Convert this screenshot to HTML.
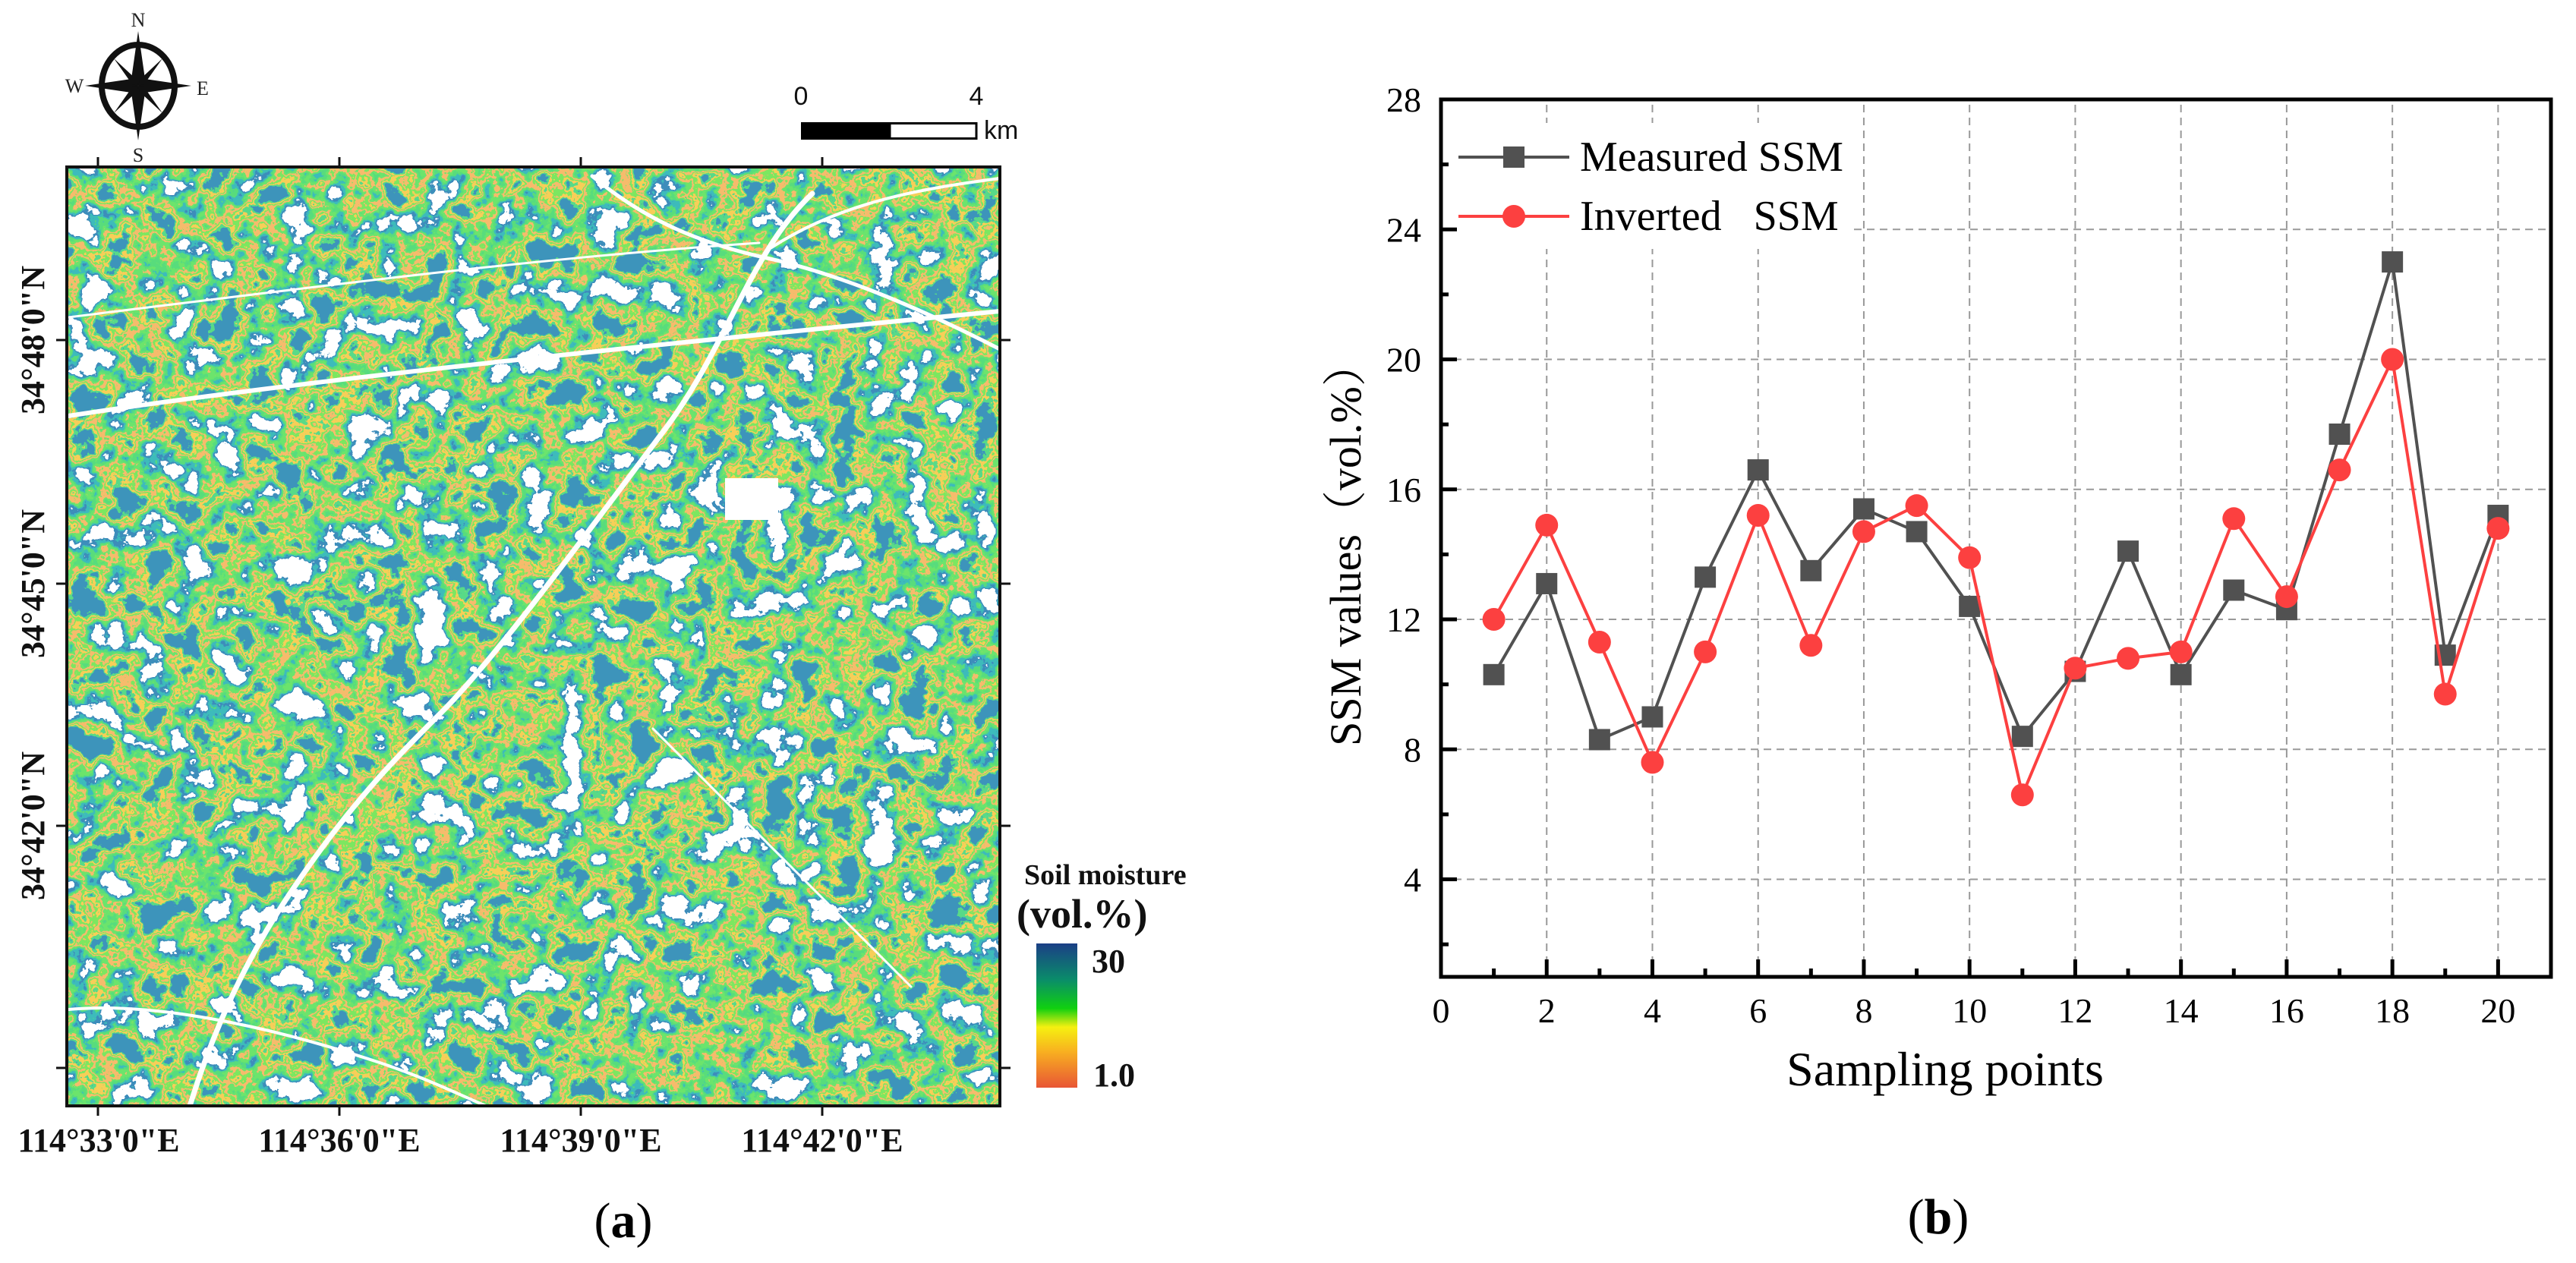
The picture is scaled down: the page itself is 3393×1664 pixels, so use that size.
<!DOCTYPE html>
<html><head><meta charset="utf-8">
<style>
html,body{margin:0;padding:0;background:#fff;}
svg{display:block;}
.serif{font-family:"Liberation Serif","Noto Serif CJK SC",serif;}
.sans{font-family:"Liberation Sans",sans-serif;}
</style></head>
<body>
<svg id="root" width="3393" height="1664" viewBox="0 0 3393 1664" xmlns="http://www.w3.org/2000/svg">
<defs>
  <filter id="soil" x="0" y="0" width="100%" height="100%" filterUnits="objectBoundingBox">
    <feTurbulence type="fractalNoise" baseFrequency="0.022" numOctaves="5" seed="11" result="n"/>
    <feColorMatrix type="matrix" values="1 0 0 0 0  1 0 0 0 0  1 0 0 0 0  0 0 0 0 1"/>
    <feComponentTransfer>
      <feFuncR type="linear" slope="2.4" intercept="-0.7"/>
      <feFuncG type="linear" slope="2.4" intercept="-0.7"/>
      <feFuncB type="linear" slope="2.4" intercept="-0.7"/>
    </feComponentTransfer>
    <feComponentTransfer>
      <feFuncR type="discrete" tableValues="1 0.05 0.05 0.1 0.15 0.92 0.2 0.93 0.1 0.05"/>
      <feFuncG type="discrete" tableValues="1 0.27 0.5 0.72 0.78 0.5 0.8 0.62 0.7 0.3"/>
      <feFuncB type="discrete" tableValues="1 0.5 0.5 0.2 0.15 0.15 0.12 0.1 0.25 0.5"/>
    </feComponentTransfer>
  </filter>
  <linearGradient id="cbar" x1="0" y1="0" x2="0" y2="1">
    <stop offset="0" stop-color="#1b3f86"/>
    <stop offset="0.25" stop-color="#0a8c6a"/>
    <stop offset="0.45" stop-color="#10d010"/>
    <stop offset="0.58" stop-color="#f5f010"/>
    <stop offset="0.75" stop-color="#f8b020"/>
    <stop offset="1" stop-color="#e85535"/>
  </linearGradient>
</defs>

<g>
  <rect x="88" y="220" width="1229" height="1237" fill="#6fb040" filter="url(#soil)"/>
  <g fill="none" stroke="#fff" stroke-linecap="round">
    <path d="M250,1457 C265,1410 300,1300 380,1180 C460,1060 520,1000 580,940 C650,870 760,720 880,560 C960,450 990,330 1070,255" stroke-width="7"/>
    <path d="M90,548 C400,500 900,450 1317,410" stroke-width="6"/>
    <path d="M90,418 C400,380 700,340 1000,320" stroke-width="3"/>
    <path d="M780,232 C850,290 920,320 1010,340 C1100,360 1200,400 1317,460" stroke-width="5"/>
    <path d="M1010,330 C1100,270 1200,250 1317,235" stroke-width="4"/>
    <path d="M860,960 C950,1050 1100,1200 1200,1300" stroke-width="3"/>
    <path d="M90,1330 C200,1320 350,1350 500,1400 C560,1420 600,1440 640,1457" stroke-width="4"/>
  </g>
  <rect x="955" y="630" width="70" height="55" fill="#fff"/>
  <rect x="88" y="220" width="1229" height="1237" fill="none" stroke="#111" stroke-width="4"/>
  <g stroke="#111" stroke-width="3">
    <line x1="129" y1="1457" x2="129" y2="1470"/><line x1="447" y1="1457" x2="447" y2="1470"/>
    <line x1="765" y1="1457" x2="765" y2="1470"/><line x1="1083" y1="1457" x2="1083" y2="1470"/>
    <line x1="129" y1="220" x2="129" y2="207"/><line x1="447" y1="220" x2="447" y2="207"/>
    <line x1="765" y1="220" x2="765" y2="207"/><line x1="1083" y1="220" x2="1083" y2="207"/>
    <line x1="88" y1="448" x2="74" y2="448"/><line x1="88" y1="769" x2="74" y2="769"/>
    <line x1="88" y1="1088" x2="74" y2="1088"/><line x1="88" y1="1407" x2="74" y2="1407"/>
    <line x1="1317" y1="448" x2="1331" y2="448"/><line x1="1317" y1="769" x2="1331" y2="769"/>
    <line x1="1317" y1="1088" x2="1331" y2="1088"/><line x1="1317" y1="1407" x2="1331" y2="1407"/>
  </g>
  <g class="serif" font-size="44" font-weight="bold" fill="#111" text-anchor="middle">
    <text x="130" y="1517">114°33'0"E</text>
    <text x="447" y="1517">114°36'0"E</text>
    <text x="765" y="1517">114°39'0"E</text>
    <text x="1083" y="1517">114°42'0"E</text>
  </g>
  <g class="serif" font-size="44" font-weight="bold" fill="#111" text-anchor="middle">
    <text transform="translate(58,448) rotate(-90)">34°48'0"N</text>
    <text transform="translate(58,769) rotate(-90)">34°45'0"N</text>
    <text transform="translate(58,1088) rotate(-90)">34°42'0"N</text>
  </g>
  <g transform="translate(182,113)">
    <ellipse cx="0" cy="0" rx="48" ry="54" fill="none" stroke="#111" stroke-width="8"/>
    <polygon points="0,-72 9,-9 0,0 -9,-9" fill="#111"/>
    <polygon points="0,72 9,9 0,0 -9,9" fill="#111"/>
    <polygon points="-70,0 -9,-9 0,0 -9,9" fill="#111"/>
    <polygon points="70,0 9,-9 0,0 9,9" fill="#111"/>
    <polygon points="32,-36 8,-2 0,0 2,-8" fill="#111"/>
    <polygon points="-32,-36 -8,-2 0,0 -2,-8" fill="#111"/>
    <polygon points="32,36 8,2 0,0 2,8" fill="#111"/>
    <polygon points="-32,36 -8,2 0,0 -2,8" fill="#111"/>
    <g class="serif" font-size="26" fill="#222" text-anchor="middle">
      <text x="0" y="-78">N</text><text x="0" y="100">S</text>
      <text x="-84" y="9">W</text><text x="85" y="12">E</text>
    </g>
  </g>
  <g>
    <rect x="1055" y="161" width="117" height="23" fill="#000"/>
    <rect x="1172" y="162.5" width="114" height="20" fill="#fff" stroke="#000" stroke-width="3"/>
    <g class="sans" font-size="34" fill="#111">
      <text x="1055" y="138" text-anchor="middle">0</text>
      <text x="1286" y="138" text-anchor="middle">4</text>
      <text x="1296" y="183">km</text>
    </g>
  </g>
  <g>
    <text class="serif" x="1349" y="1165" font-size="38" font-weight="bold" fill="#111">Soil moisture</text>
    <text class="serif" x="1339" y="1222" font-size="54" font-weight="bold" fill="#111">(vol.%)</text>
    <rect x="1365" y="1243" width="54" height="190" fill="url(#cbar)"/>
    <text class="serif" x="1438" y="1281" font-size="44" font-weight="bold" fill="#111">30</text>
    <text class="serif" x="1440" y="1431" font-size="44" font-weight="bold" fill="#111">1.0</text>
  </g>
  <text class="serif" x="821" y="1630" font-size="66" text-anchor="middle" fill="#000">(<tspan font-weight="bold">a</tspan>)</text>
</g>

<g id="chart"></g>
<text class="serif" x="2553" y="1625" font-size="66" text-anchor="middle" fill="#000">(<tspan font-weight="bold">b</tspan>)</text>
</svg>

<script>
const categories = [1,2,3,4,5,6,7,8,9,10,11,12,13,14,15,16,17,18,19,20];
const measuredSSM = [10.3,13.1,8.3,9.0,13.3,16.6,13.5,15.4,14.7,12.4,8.4,10.4,14.1,10.3,12.9,12.3,17.7,23.0,10.9,15.2];
const invertedSSM = [12.0,14.9,11.3,7.6,11.0,15.2,11.2,14.7,15.5,13.9,6.6,10.5,10.8,11.0,15.1,12.7,16.6,20.0,9.7,14.8];
const xTickLabels = [0,2,4,6,8,10,12,14,16,18,20];
const yTickLabels = [4,8,12,16,20,24,28];
const seriesNames = ["Measured SSM","Inverted   SSM"];

const NS = "http://www.w3.org/2000/svg";
const X0 = 1898, X1 = 3360, Y0 = 1287, Y1 = 131;
const xMin = 0, xMax = 21, yMin = 1, yMax = 28;
function xs(v){ return X0 + (v - xMin) / (xMax - xMin) * (X1 - X0); }
function ys(v){ return Y0 - (v - yMin) / (yMax - yMin) * (Y0 - Y1); }
const chart = document.getElementById("chart");
function mk(tag, attrs, parent){
  const e = document.createElementNS(NS, tag);
  for (const k in attrs) e.setAttribute(k, attrs[k]);
  (parent || chart).appendChild(e);
  return e;
}

const grid = mk("g", {stroke:"#999", "stroke-width":2, "stroke-dasharray":"10 7", fill:"none"});


xTickLabels.forEach(v => { if (v > 0) mk("line", {x1:xs(v), y1:Y0, x2:xs(v), y2:Y1}, grid); });
yTickLabels.forEach(v => { if (v < 28) mk("line", {x1:X0, y1:ys(v), x2:X1, y2:ys(v)}, grid); });

const legBg = mk("rect", {x:X0+3, y:162, width:540, height:166, fill:"#fff"});



const ticks = mk("g", {stroke:"#000", "stroke-width":5});


for (let v = 1; v <= 21; v++) {
  const major = v % 2 === 0;
  mk("line", {x1:xs(v), y1:Y0, x2:xs(v), y2:Y0 - (major ? 23 : 11)}, ticks);
}
for (let v = 2; v < 28; v += 2) {
  const major = v % 4 === 0;
  mk("line", {x1:X0, y1:ys(v), x2:X0 + (major ? 21 : 10), y2:ys(v)}, ticks);
}

function drawSeries(vals, color, name, marker){
  const g = mk("g", {});
  
  
  const pts = vals.map((v,i) => xs(categories[i]) + "," + ys(v)).join(" ");
  const pl = mk("polyline", {points:pts, fill:"none", stroke:color, "stroke-width":4, "stroke-linejoin":"round"}, g);
  
  
  vals.forEach((v,i) => {
    let m;
    if (marker === "square") m = mk("rect", {x:xs(categories[i])-14, y:ys(v)-14, width:28, height:28, fill:color}, g);
    else m = mk("circle", {cx:xs(categories[i]), cy:ys(v), r:15, fill:color}, g);
    
    
  });
}
drawSeries(measuredSSM, "#515151", "measured-ssm", "square");
drawSeries(invertedSSM, "#fc4040", "inverted-ssm", "circle");

const frame = mk("rect", {x:X0, y:Y1, width:X1-X0, height:Y0-Y1, fill:"none", stroke:"#000", "stroke-width":5});



const tl = mk("g", {"font-family":"Liberation Serif, serif", "font-size":46, fill:"#000"});


xTickLabels.forEach(v => {
  const t = mk("text", {x:xs(v), y:1347, "text-anchor":"middle"}, tl);
  t.textContent = v;
  
  
});
yTickLabels.forEach(v => {
  const t = mk("text", {x:1872, y:ys(v)+16, "text-anchor":"end"}, tl);
  t.textContent = v;
  
  
});

const xt = mk("text", {x:2562, y:1430, "text-anchor":"middle", "font-family":"Liberation Serif, serif", "font-size":64});
xt.textContent = "Sampling points";


const yt = mk("text", {transform:"translate(1792,717) rotate(-90)", "text-anchor":"middle", "font-family":"Liberation Serif, Noto Serif CJK SC, serif", "font-size":58});
yt.textContent = "SSM values（vol.%）";



const legY = [207, 285];
const legColors = ["#515151", "#fc4040"];
seriesNames.forEach((nm, i) => {
  const g = mk("g", {});
  
  
  mk("line", {x1:1921, y1:legY[i], x2:2067, y2:legY[i], stroke:legColors[i], "stroke-width":4}, g);
  if (i === 0) mk("rect", {x:1980, y:legY[i]-14, width:28, height:28, fill:legColors[i]}, g);
  else mk("circle", {cx:1994, cy:legY[i], r:15, fill:legColors[i]}, g);
  const t = mk("text", {x:2081, y:legY[i]+18, "font-family":"Liberation Serif, serif", "font-size":56}, g);
  t.style.whiteSpace = "pre";
  t.textContent = nm;
});
</script>
</body></html>
